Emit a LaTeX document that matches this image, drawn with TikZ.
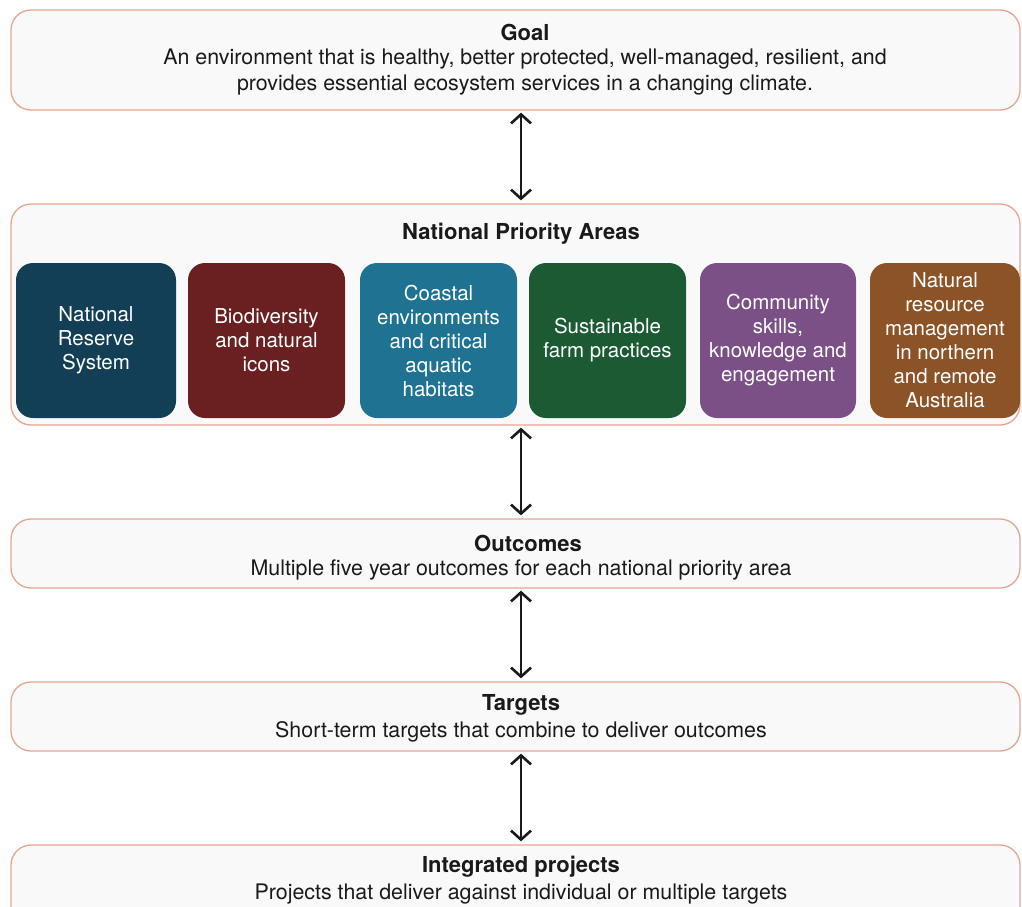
\documentclass[tikz,border=0pt]{standalone}
\usepackage{fontspec}
\setmainfont{TeX Gyre Heros}
\usetikzlibrary{arrows.meta}
\definecolor{boxfill}{HTML}{F9F9FA}
\definecolor{boxline}{HTML}{E8A490}
\definecolor{cA}{HTML}{123F55}
\definecolor{cB}{HTML}{6A2020}
\definecolor{cC}{HTML}{1F7291}
\definecolor{cD}{HTML}{1C5A33}
\definecolor{cE}{HTML}{7A5087}
\definecolor{cF}{HTML}{8C5327}
\definecolor{ink}{HTML}{1A1A1A}
\tikzset{
  outer/.style={draw=boxline, line width=1.3pt, fill=boxfill, rounded corners=20pt, inner sep=0pt},
  inner/.style={rounded corners=17pt, inner sep=0pt, minimum height=155pt, text=white,
                font=\fontsize{20.5}{24}\selectfont, align=center},
  ttl/.style={font=\fontsize{22}{24}\bfseries\selectfont, text=ink, inner sep=0pt},
  body/.style={font=\fontsize{21.4}{26}\selectfont, text=ink, align=center, inner sep=0pt},
  link/.style={draw=ink, line width=2.6pt, {Straight Barb[length=9pt,width=20pt,line width=2.6pt]}-{Straight Barb[length=9pt,width=20pt,line width=2.6pt]}}
}
\begin{document}
\begin{tikzpicture}[x=1pt,y=-1pt]
\useasboundingbox (0,0) rectangle (1022,906);
\clip (0,0) rectangle (1022,906);
\fill[white] (0,0) rectangle (1022,906);
% outer boxes
\node[outer, minimum width=1009pt, minimum height=100pt] (goal) at (515.5,60) {};
\node[outer, minimum width=1009pt, minimum height=221pt] (npa) at (515.5,314.5) {};
\node[outer, minimum width=1009pt, minimum height=69pt] (out) at (515.5,553.5) {};
\node[outer, minimum width=1009pt, minimum height=69pt] (tgt) at (515.5,716.5) {};
\node[outer, minimum width=1009pt, minimum height=100pt] (proj) at (515.5,895) {};
% texts
\node[ttl] (goalT) at (525,32) {Goal};
\node[body] (goalB) at (525,72) {An environment that is healthy, better protected, well-managed, resilient, and\\provides essential ecosystem services in a changing climate.};
\node[ttl] (npaT) at (521,234) {National Priority Areas};
\node[ttl] (outT) at (528,543) {Outcomes};
\node[body] (outB) at (521,570) {Multiple five year outcomes for each national priority area};
\node[ttl] (tgtT) at (521,705) {Targets};
\node[body] (tgtB) at (521,732) {Short-term targets that combine to deliver outcomes};
\node[ttl] (projT) at (521,867) {Integrated projects};
\node[body] (projB) at (521,894) {Projects that deliver against individual or multiple targets};
% priority areas
\node[inner, fill=cA, minimum width=160pt] (p1) at (96,340.5) {National\\Reserve\\System};
\node[inner, fill=cB, minimum width=157pt] (p2) at (266.5,340.5) {Biodiversity\\and natural\\icons};
\node[inner, fill=cC, minimum width=157pt] (p3) at (438.5,340.5) {Coastal\\environments\\and critical\\aquatic\\habitats};
\node[inner, fill=cD, minimum width=157pt] (p4) at (607.5,340.5) {Sustainable\\farm practices};
\node[inner, fill=cE, minimum width=156pt] (p5) at (778,340.5) {Community\\skills,\\knowledge and\\engagement};
\node[inner, fill=cF, minimum width=150pt] (p6) at (945,340.5) {Natural\\resource\\management\\in northern\\and remote\\Australia};
% connectors
\draw[link] ([yshift=-2pt]goal.south -| 521,0) -- ([yshift=3pt]npa.north -| 521,0);
\draw[link] ([yshift=-2pt]npa.south -| 521,0) -- ([yshift=3pt]out.north -| 521,0);
\draw[link] ([yshift=-2pt]out.south -| 521,0) -- ([yshift=3pt]tgt.north -| 521,0);
\draw[link] ([yshift=-2pt]tgt.south -| 521,0) -- ([yshift=3pt]proj.north -| 521,0);
\end{tikzpicture}
\end{document}
